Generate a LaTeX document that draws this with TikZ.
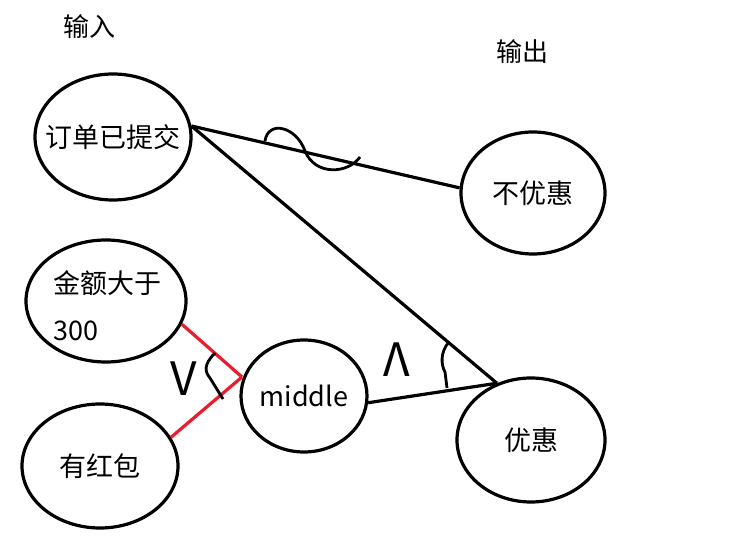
\documentclass[tikz,border=0pt]{standalone}
\usepackage{fontspec}
\setmainfont{Noto Sans CJK SC}
\usepackage{xcolor}
\usetikzlibrary{shapes.geometric}
\definecolor{penred}{RGB}{232,30,46}
\tikzset{
  state/.style={ellipse, draw, line width=3.2pt, inner sep=0pt},
  statetext/.style={inner sep=0pt, font=\fontsize{27}{47}\selectfont},
  wire/.style={line width=3.2pt},
  redwire/.style={line width=3.2pt, draw=penred},
  title/.style={font=\fontsize{26}{30}\selectfont},
  gate/.style={font=\fontsize{46}{50}\selectfont}
}
\begin{document}
\begin{tikzpicture}[x=1pt, y=-1pt]
        \useasboundingbox (0,0) rectangle (744,553);
        \node[title] (in) at (89,27) {输入};
        \node[title] (out) at (522,52) {输出};
        \node[state, minimum width=156pt, minimum height=126pt] (tijiao) at (113,137) {};
        \node[state, minimum width=144pt, minimum height=122pt] (buyouhui) at (533,193) {};
        \node[state, minimum width=160pt, minimum height=122pt] (jine) at (106,301) {};
        \node[state, minimum width=156pt, minimum height=124pt] (hongbao) at (100,466) {};
        \node[state, minimum width=126pt, minimum height=112pt] (mid) at (304,396) {};
        \node[state, minimum width=148pt, minimum height=124pt] (youhui) at (531,440) {};
        \node[statetext] (tijiaotext) at (tijiao) {订单已提交};
        \node[statetext] (buyouhuitext) at (buyouhui) {不优惠};
        \node[statetext, align=left, anchor=west] (jinetext) at (53,306) {金额大于\\300};
        \node[statetext] (hongbaotext) at (hongbao) {有红包};
        \node[statetext] (midtext) at (mid) {middle};
        \node[statetext] (youhuitext) at (youhui) {优惠};
        \coordinate (meet) at (242,377);
        \draw[wire] (tijiao.8) -- (buyouhui.176);
        \draw[wire] (tijiao.8) -- (youhui.121);
        \draw[wire] (mid.-6) -- (youhui.121);
        \draw[redwire] (jine.-17) -- (meet);
        \draw[redwire] (meet) -- (hongbao.22);
        % not
        \draw[wire, line width=2.8pt] (265,141) .. controls (268,120) and (296,126) .. (305,151) .. controls (315,176) and (348,174) .. (360,157);
        % or
        \draw[wire, line width=2.8pt] (215,353) .. controls (203,365) and (205,372) .. (210,378) -- (223,399);
        \node[gate] (orsign) at (184,379) {V};
        % and
        \draw[wire, line width=2.8pt] (449,342) .. controls (440,352) and (441,365) .. (445,372) -- (447,388);
        \node[gate] (andsign) at (397,360) {Λ};
    \end{tikzpicture}
\end{document}
